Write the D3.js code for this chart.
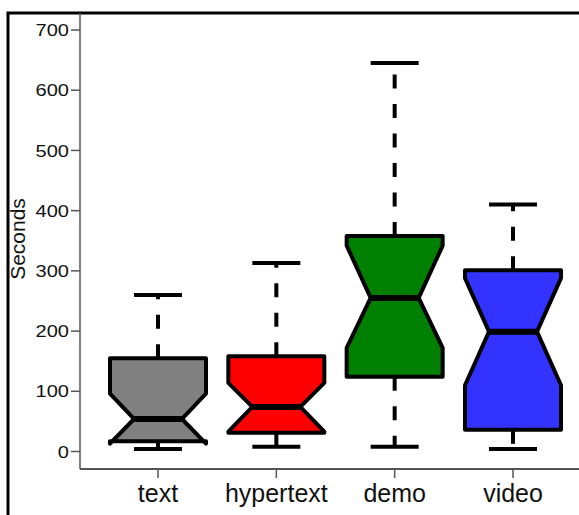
<!doctype html>
<html lang="en">
<head>
<meta charset="utf-8" />
<title>Seconds boxplot</title>
<style>
	body { margin: 0; background: #fff; }
	svg { display: block; }
	text { font-family: "Liberation Sans", Arial, sans-serif; fill: #111; }
</style>
</head>
<body>
<svg width="579" height="515"></svg>
<script src="https://cdnjs.cloudflare.com/ajax/libs/d3/7.8.5/d3.min.js"></script>
<script>
	// values
	var categories = ["text", "hypertext", "demo", "video"];
	var fills = ["#808080", "#ff0000", "#008000", "#3333ff"];
	var lowWhisker = [4, 8, 8, 4];
	var q1 = [17, 31, 124, 36];
	var notchLo = [13, 33, 172, 110];
	var median = [54, 74, 255, 199];
	var notchHi = [96, 114, 342, 288];
	var q3 = [155, 158, 358, 301];
	var highWhisker = [260, 313, 645, 410];
	var yTicks = [0, 100, 200, 300, 400, 500, 600, 700];

	var svg = d3.select("svg");

	var x = d3.scalePoint().domain(categories).range([158, 513]);
	var y = d3.scaleLinear().domain([0, 700]).range([451.5, 30]);

	var boxHalf = 48, notchHalf = 24, capHalf = 24;

	// outer frame (left + top)
	svg.append("path")
		.attr("d", "M8,515 L8,13 L579,13")
		.attr("fill", "none")
		.attr("stroke", "#000")
		.attr("stroke-width", 3);

	// axes
	var axisY = svg.append("g").attr("transform", "translate(80,0)");
	axisY.append("line")
		.attr("x1", 0).attr("x2", 0).attr("y1", 13).attr("y2", 469)
		.attr("stroke", "#555").attr("stroke-width", 1.5);
	var yt = axisY.selectAll("g.tick").data(yTicks).enter().append("g")
		.attr("class", "tick")
		.attr("transform", function (d) { return "translate(0," + y(d) + ")"; });
	yt.append("line").attr("x1", -9).attr("x2", 0).attr("stroke", "#555").attr("stroke-width", 1.5);
	yt.append("text")
		.attr("transform", "translate(-11,0) scale(1.18,1)")
		.attr("text-anchor", "end")
		.attr("dy", "0.36em")
		.style("font-size", "17px")
		.text(function (d) { return d; });

	var axisX = svg.append("g").attr("transform", "translate(0,469)");
	axisX.append("line")
		.attr("x1", 80).attr("x2", 579).attr("y1", 0).attr("y2", 0)
		.attr("stroke", "#555").attr("stroke-width", 2);
	var xt = axisX.selectAll("g.tick").data(categories).enter().append("g")
		.attr("class", "tick")
		.attr("transform", function (d) { return "translate(" + x(d) + ",0)"; });
	xt.append("line").attr("y1", 0).attr("y2", 9).attr("stroke", "#555").attr("stroke-width", 1.5);
	xt.append("text")
		.attr("y", 33)
		.attr("text-anchor", "middle")
		.style("font-size", "25px")
		.text(function (d) { return d; });

	svg.append("text")
		.attr("transform", "translate(25,239) rotate(-90)")
		.attr("text-anchor", "middle")
		.style("font-size", "21px")
		.text("Seconds");

	// boxes
	var g = svg.append("g");
	categories.forEach(function (c, i) {
		var cx = x(c);
		var b = g.append("g");

		// whiskers (dashed), from hinge out to the whisker end
		[[q3[i], highWhisker[i]], [q1[i], lowWhisker[i]]].forEach(function (w) {
			b.append("line")
				.attr("x1", cx).attr("x2", cx)
				.attr("y1", y(w[0])).attr("y2", y(w[1]))
				.attr("stroke", "#000").attr("stroke-width", 4)
				.attr("stroke-dasharray", "14,15.5");
			b.append("line")
				.attr("x1", cx - capHalf).attr("x2", cx + capHalf)
				.attr("y1", y(w[1])).attr("y2", y(w[1]))
				.attr("stroke", "#000").attr("stroke-width", 4);
		});

		// notched box, same point order as R's boxplot
		var pts = [
			[cx - boxHalf, q1[i]], [cx - boxHalf, notchLo[i]], [cx - notchHalf, median[i]],
			[cx - boxHalf, notchHi[i]], [cx - boxHalf, q3[i]], [cx + boxHalf, q3[i]],
			[cx + boxHalf, notchHi[i]], [cx + notchHalf, median[i]], [cx + boxHalf, notchLo[i]],
			[cx + boxHalf, q1[i]]
		];
		b.append("path")
			.attr("d", d3.line().x(function (p) { return p[0]; }).y(function (p) { return y(p[1]); })(pts) + "Z")
			.attr("fill", fills[i])
			.attr("stroke", "#000").attr("stroke-width", 4)
			.attr("stroke-linejoin", "round");

		b.append("line")
			.attr("x1", cx - notchHalf).attr("x2", cx + notchHalf)
			.attr("y1", y(median[i])).attr("y2", y(median[i]))
			.attr("stroke", "#000").attr("stroke-width", 6);
	});
</script>
</body>
</html>
